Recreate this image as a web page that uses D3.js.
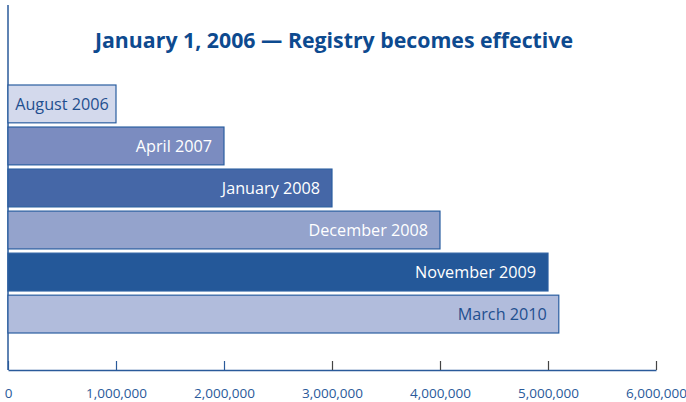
<!DOCTYPE html>
<html lang="en">
<head>
<meta charset="UTF-8">
<script src="https://d3js.org/d3.v7.min.js"></script>
<title>Registry</title>
<style>
  body { margin: 0; background: #fff; }
  svg text { font-family: "Open Sans", "Noto Sans", sans-serif; }
</style>
</head>
<body>
<div id="container"></div>
<script>
// data
var labels = ["August 2006", "April 2007", "January 2008", "December 2008", "November 2009", "March 2010"];
var values = [1000000, 2000000, 3000000, 4000000, 5000000, 5100000];
var fills  = ["#d3d9ec", "#7b8cc0", "#4567a7", "#94a3cc", "#245899", "#b1bcdc"];
var textColors = ["#1f4f8f", "#fff", "#fff", "#fff", "#fff", "#1f4f8f"];
var tickValues = [0, 1000000, 2000000, 3000000, 4000000, 5000000, 6000000];
var title = "January 1, 2006 \u2014 Registry becomes effective";

var width = 686, height = 402;
var x0 = 8, x1 = 656, axisY = 370;

var svg = d3.select("#container").append("svg")
    .attr("width", width).attr("height", height);

var x = d3.scaleLinear().domain([0, 6000000]).range([x0, x1]);
var y = d3.scaleBand().domain(labels).range([85, 333]).paddingInner(0.1).paddingOuter(0);

// title
svg.append("text")
    .attr("x", 334).attr("y", 48)
    .attr("text-anchor", "middle")
    .style("font-size", "21.3px").style("font-weight", "bold")
    .style("fill", "#0d4a8f")
    .text(title);

// left line
svg.append("line")
    .attr("x1", x0).attr("x2", x0).attr("y1", 5).attr("y2", axisY)
    .style("stroke", "#2a5a9a").style("stroke-width", 1.5);

// bars
var bar = svg.selectAll(".bar")
    .data(labels)
    .enter().append("g")
    .attr("class", "bar")
    .attr("transform", function(d) { return "translate(0," + y(d) + ")"; });

bar.append("rect")
    .attr("x", x(0))
    .attr("width", function(d, i) { return x(values[i]) - x(0); })
    .attr("height", y.bandwidth())
    .style("fill", function(d, i) { return fills[i]; })
    .style("stroke", "#2a5ea0")
    .style("stroke-width", 1.2);

bar.append("text")
    .attr("y", y.bandwidth() / 2)
    .attr("dy", "0.36em")
    .style("font-size", "16.2px")
    .style("fill", function(d, i) { return textColors[i]; })
    .text(function(d) { return d; })
    .each(function(d, i) {
        var w = x(values[i]) - x(0);
        var tw = this.getComputedTextLength();
        var t = d3.select(this);
        if (tw + 24 > w) {
            t.attr("text-anchor", "middle").attr("x", x(0) + w / 2);
        } else {
            t.attr("text-anchor", "end").attr("x", x(values[i]) - 12);
        }
    });

// x axis
var xAxis = d3.axisBottom(x)
    .tickValues(tickValues)
    .tickSize(-9)
    .tickSizeOuter(0)
    .tickPadding(18)
    .tickFormat(d3.format(","));

var gx = svg.append("g")
    .attr("transform", "translate(0," + axisY + ")")
    .call(xAxis);

gx.select(".domain").style("stroke", "#2a5a9a").style("stroke-width", 1.5);
gx.selectAll(".tick line")
    .style("stroke", function(d) { return d >= 3000000 ? "#444" : "#2a5a9a"; })
    .style("stroke-width", 1.2);
gx.selectAll(".tick text")
    .style("font-size", "13.5px")
    .style("font-family", "'Open Sans', 'Noto Sans', sans-serif")
    .style("fill", "#2a5a9a");
</script>
</body>
</html>
